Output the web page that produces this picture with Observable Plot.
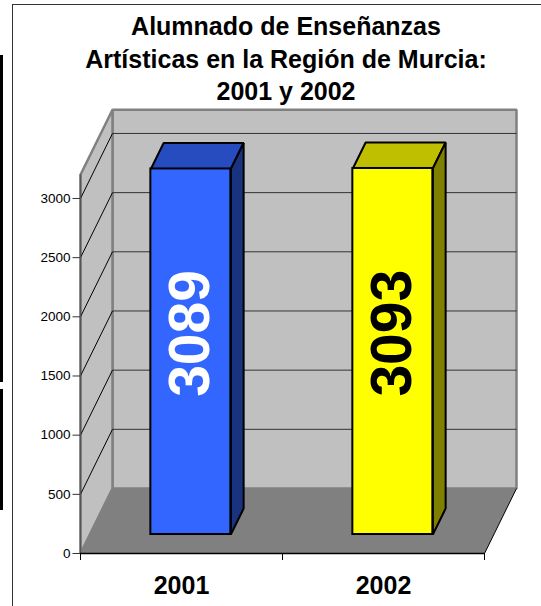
<!DOCTYPE html>
<html>
<head>
<meta charset="utf-8">
<script src="https://cdn.jsdelivr.net/npm/d3@7"></script>
<script src="https://cdn.jsdelivr.net/npm/@observablehq/plot@0.6"></script>
<style>
  html, body { margin: 0; padding: 0; background: #fff; overflow: hidden; }
  #wrap { position: relative; width: 541px; height: 606px; overflow: hidden; }
  #title { position: absolute; left: 0; top: 10px; width: 572px; text-align: center;
           font: bold 25px "Liberation Sans", Arial, sans-serif; line-height: 32.5px; color: #000; }
  #border { position: absolute; left: 11.5px; top: 3.5px; width: 700px; height: 700px;
            border: 1.2px solid #333; pointer-events: none; }
  .strip { position: absolute; left: 0; background: #000; }
</style>
</head>
<body>
<div id="wrap">
  <div id="chart"></div>
  <div id="title"></div>
  <div id="border"></div>
  <div class="strip" style="top:55px;height:327px;width:2.7px"></div>
  <div class="strip" style="top:389px;height:121px;width:3.3px"></div>
</div>
<script>
// ---- data ----
const categories = ["2001", "2002"];
const values = [3089, 3093];
const frontColors = ["#3366FF", "#FFFF00"];
const topColors = ["#264CBF", "#BFBF00"];
const sideColors = ["#1A3380", "#808000"];
const labelColors = ["#FFFFFF", "#000000"];
const yTicks = [0, 500, 1000, 1500, 2000, 2500, 3000];
const yMax = 3200;
const titleLines = ["Alumnado de Enseñanzas", "Artísticas en la Región de Murcia:", "2001 y 2002"];

// ---- 3D geometry (in data units) ----
const DEPTH_X = 0.1584;   // full depth shift along x (category units)
const DEPTH_V = 549.3;    // full depth shift along y (value units)
const HALF = 0.198;       // bar half width (category units)
const D0 = 0.292, D1 = 0.692; // bar front / back depth fractions
const nCat = categories.length;

const P = (x, v, d) => ({x: x + d * DEPTH_X, y: v + d * DEPTH_V});
const poly = (pts, o) => Plot.line(pts, {x: "x", y: "y", curve: "linear-closed", strokeLinejoin: "miter", ...o});

const marks = [];
// back wall
marks.push(poly([P(0, 0, 1), P(nCat, 0, 1), P(nCat, yMax, 1), P(0, yMax, 1)],
  {fill: "#C0C0C0", stroke: "#808080", strokeWidth: 2.5}));
// left wall
marks.push(poly([P(0, 0, 0), P(0, yMax, 0), P(0, yMax, 1), P(0, 0, 1)],
  {fill: "#C0C0C0", stroke: "#808080", strokeWidth: 2.5}));
// floor
marks.push(poly([P(0, 0, 0), P(nCat, 0, 0), P(nCat, 0, 1), P(0, 0, 1)],
  {fill: "#808080", stroke: "none"}));
// gridlines on back wall
const gridTicks = yTicks.filter(t => t > 0);
marks.push(Plot.link(gridTicks, {
  x1: () => P(0, 0, 1).x, x2: () => P(nCat, 0, 1).x,
  y1: t => P(0, t, 1).y, y2: t => P(0, t, 1).y,
  stroke: "#333", strokeWidth: 1
}));
// gridlines on left wall
marks.push(Plot.link(gridTicks, {
  x1: () => P(0, 0, 0).x, x2: () => P(0, 0, 1).x,
  y1: t => P(0, t, 0).y, y2: t => P(0, t, 1).y,
  stroke: "#000", strokeWidth: 1
}));
// floor right edge
marks.push(Plot.link([0], {
  x1: () => P(nCat, 0, 0).x, x2: () => P(nCat, 0, 1).x,
  y1: () => P(nCat, 0, 0).y, y2: () => P(nCat, 0, 1).y,
  stroke: "#000", strokeWidth: 1
}));
// y axis line (front edge of left wall)
marks.push(Plot.ruleX([0], {y1: 0, y2: yMax, stroke: "#555", strokeWidth: 1.5}));
// x axis line
marks.push(Plot.ruleY([0], {x1: 0, x2: nCat, stroke: "#000", strokeWidth: 1.5}));

// bars
values.forEach((v, i) => {
  const cx = i + 0.5;
  marks.push(poly([P(cx - HALF, v, D0), P(cx + HALF, v, D0), P(cx + HALF, v, D1), P(cx - HALF, v, D1)],
    {fill: topColors[i], stroke: "#000", strokeWidth: 2}));
  marks.push(poly([P(cx + HALF, 0, D0), P(cx + HALF, v, D0), P(cx + HALF, v, D1), P(cx + HALF, 0, D1)],
    {fill: sideColors[i], stroke: "#000", strokeWidth: 2}));
});
const bars = values.map((v, i) => ({cat: categories[i], v, i}));
marks.push(Plot.rect(bars, {
  x1: d => P(d.i + 0.5 - HALF, 0, D0).x, x2: d => P(d.i + 0.5 + HALF, 0, D0).x,
  y1: d => P(0, 0, D0).y, y2: d => P(0, d.v, D0).y,
  fill: d => frontColors[d.i], stroke: "#000", strokeWidth: 2
}));
// value labels
marks.push(Plot.text(bars, {
  x: d => P(d.i + 0.5, 0, D0).x, y: d => P(0, d.v * 0.55, D0).y,
  text: d => String(d.v), rotate: -90, fontSize: 57, fontWeight: "bold",
  fill: d => labelColors[d.i], textAnchor: "middle", lineAnchor: "middle"
}));
// category labels
marks.push(Plot.text(bars, {
  x: d => d.i + 0.5, y: 0, text: "cat", dy: 40, lineAnchor: "bottom",
  fontSize: 25, fontWeight: "bold", fill: "#000"
}));
// axes
marks.push(Plot.axisY(yTicks, {tickSize: 7.5, tickPadding: 2.5, fontSize: 13.5, label: null,
  tickFormat: d => String(d), stroke: "#333", fill: "#000"}));
marks.push(Plot.axisX(d3.range(nCat + 1), {tickSize: 7, tickFormat: () => "", label: null, stroke: "#000"}));

const chart = Plot.plot({
  width: 541,
  height: 606,
  marginLeft: 80,
  marginRight: 57,
  marginBottom: 53,
  marginTop: 174.3,
  x: {type: "linear", domain: [0, nCat]},
  y: {type: "linear", domain: [0, yMax]},
  color: {type: "identity"},
  style: {fontFamily: "'Liberation Sans', Arial, sans-serif", background: "#fff", color: "#000", overflow: "visible"},
  marks
});
document.getElementById("chart").appendChild(chart);
document.getElementById("title").innerHTML = titleLines.map(l => `<div>${l}</div>`).join("");
</script>
</body>
</html>
